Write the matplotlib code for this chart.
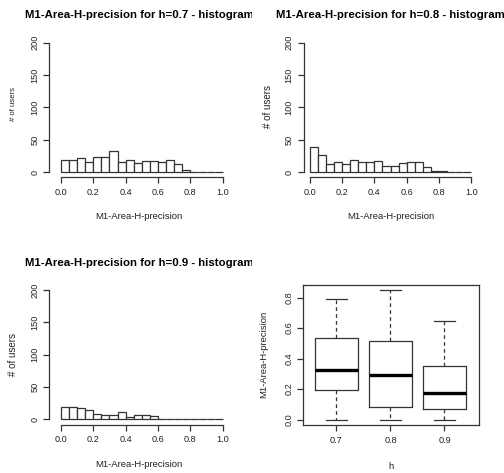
import matplotlib
matplotlib.use('Agg')
import matplotlib.pyplot as plt
import numpy as np
from matplotlib.transforms import Bbox

plt.rcParams['font.family'] = ['Liberation Sans', 'DejaVu Sans']

# histogram counts per 0.05 bin (0.0 - 1.0)
bin_edges = np.round(np.arange(0, 1.0001, 0.05), 2)
counts_07 = [19, 18, 22, 15, 24, 23, 32, 15, 19, 14, 17, 17, 16, 19, 12, 3, 0, 0, 0, 0]
counts_08 = [38, 26, 13, 15, 13, 18, 16, 15, 17, 10, 10, 14, 15, 15, 7, 1, 2, 0, 0, 0]
counts_09 = [19, 19, 17, 15, 8, 7, 7, 11, 3, 6, 6, 5, 0, 1, 0, 0, 0, 0, 0, 0]

# boxplot stats by h
h_labels = ['0.7', '0.8', '0.9']
box_lo = [0.0, 0.0, 0.0]
box_q1 = [0.193, 0.085, 0.068]
box_med = [0.327, 0.291, 0.173]
box_q3 = [0.533, 0.515, 0.348]
box_hi = [0.789, 0.850, 0.649]

W, H = 504, 473
fig = plt.figure(figsize=(W / 100, H / 100), dpi=100)
fig.patch.set_facecolor('white')

LINE = '#333333'
TXT = '#222222'
TICKSIZE = 6.6


def px_axes(left, top, right, bottom):
    return fig.add_axes([left / W, 1 - bottom / H, (right - left) / W, (bottom - top) / H])


def ftext(x, y, s, clip=None, color=TXT, **kw):
    t = fig.text(x / W, 1 - y / H, s, color=color, **kw)
    if clip is not None:
        t.set_clip_box(Bbox([[clip[0], 0], [clip[1], H]]))
        t.set_clip_on(True)
    return t


def style_ticks(ax):
    ax.tick_params(axis='both', length=4.3, width=0.9, color=LINE, labelsize=TICKSIZE,
                   labelcolor=TXT)
    ax.tick_params(axis='x', pad=3.6)
    ax.tick_params(axis='y', pad=2.8, labelrotation=90)
    for lbl in ax.get_yticklabels():
        lbl.set_va('center')


def hist_panel(counts, left, top, right, bottom, xlo, h, title_x, title_y, panel,
               ylab_y, ylab_size):
    ax = px_axes(left, top, right, bottom)
    ax.bar(bin_edges[:-1], counts, width=0.05, align='edge', facecolor='white',
           edgecolor=LINE, linewidth=0.9)
    ax.set_xlim(xlo, 1.04)
    ax.set_ylim(-8, 208)
    for s in ['top', 'right']:
        ax.spines[s].set_visible(False)
    ax.spines['left'].set_bounds(0, 200)
    ax.spines['bottom'].set_bounds(0, 1)
    for s in ['left', 'bottom']:
        ax.spines[s].set_color(LINE)
        ax.spines[s].set_linewidth(0.9)
    ax.set_xticks(np.arange(0, 1.01, 0.2))
    ax.set_xticklabels(['0.0', '0.2', '0.4', '0.6', '0.8', '1.0'])
    ax.set_yticks([0, 50, 100, 150, 200])
    style_ticks(ax)
    ax.patch.set_alpha(0)
    cx = (left + right) / 2
    ftext(title_x, title_y, 'M1-Area-H-precision for h=%s - histogram' % h, clip=panel,
          color='black', ha='center', va='center', fontsize=8.2, fontweight='bold')
    ftext(cx, bottom + 39.5, 'M1-Area-H-precision', ha='center', va='center', fontsize=6.8)
    ftext(left - 36, ylab_y, '# of users', ha='center', va='center',
          rotation=90, fontsize=ylab_size)
    return ax


hist_panel(counts_07, 49.3, 37.5, 229.2, 177.2, -0.072, '0.7', 139.3, 15, (0, 252), 104, 5.6)
hist_panel(counts_08, 303.7, 37.5, 477.8, 177.2, -0.037, '0.8', 390.7, 15, (252, 504), 107, 7.0)
hist_panel(counts_09, 49.3, 284.8, 229.2, 424.5, -0.072, '0.9', 139.3, 262.7, (0, 252), 354, 7.0)

# boxplot panel
ax = px_axes(303, 284.7, 479, 424.7)
stats = []
for i in range(len(h_labels)):
    stats.append({'med': box_med[i], 'q1': box_q1[i], 'q3': box_q3[i],
                  'whislo': box_lo[i], 'whishi': box_hi[i], 'fliers': []})
ax.bxp(stats, positions=[1, 2, 3], widths=0.8, capwidths=0.4, showfliers=False,
       boxprops=dict(color=LINE, linewidth=0.9),
       whiskerprops=dict(color=LINE, linewidth=0.9, linestyle=(0, (3, 2.5))),
       capprops=dict(color=LINE, linewidth=0.9),
       medianprops=dict(color='black', linewidth=2.4, solid_capstyle='butt'))
ax.set_xlim(0.38, 3.64)
ax.set_ylim(-0.034, 0.884)
ax.set_xticks([1, 2, 3])
ax.set_xticklabels(h_labels)
ax.set_yticks([0, 0.2, 0.4, 0.6, 0.8])
ax.set_yticklabels(['0.0', '0.2', '0.4', '0.6', '0.8'])
for s in ax.spines.values():
    s.set_color(LINE)
    s.set_linewidth(0.9)
style_ticks(ax)
ftext(391, 466.7, 'h', ha='center', va='center', fontsize=6.8)
ftext(263.7, 354.7, 'M1-Area-H-precision', ha='center', va='center', rotation=90,
      fontsize=6.8)

fig.savefig('out.png', dpi=100, facecolor='white')
